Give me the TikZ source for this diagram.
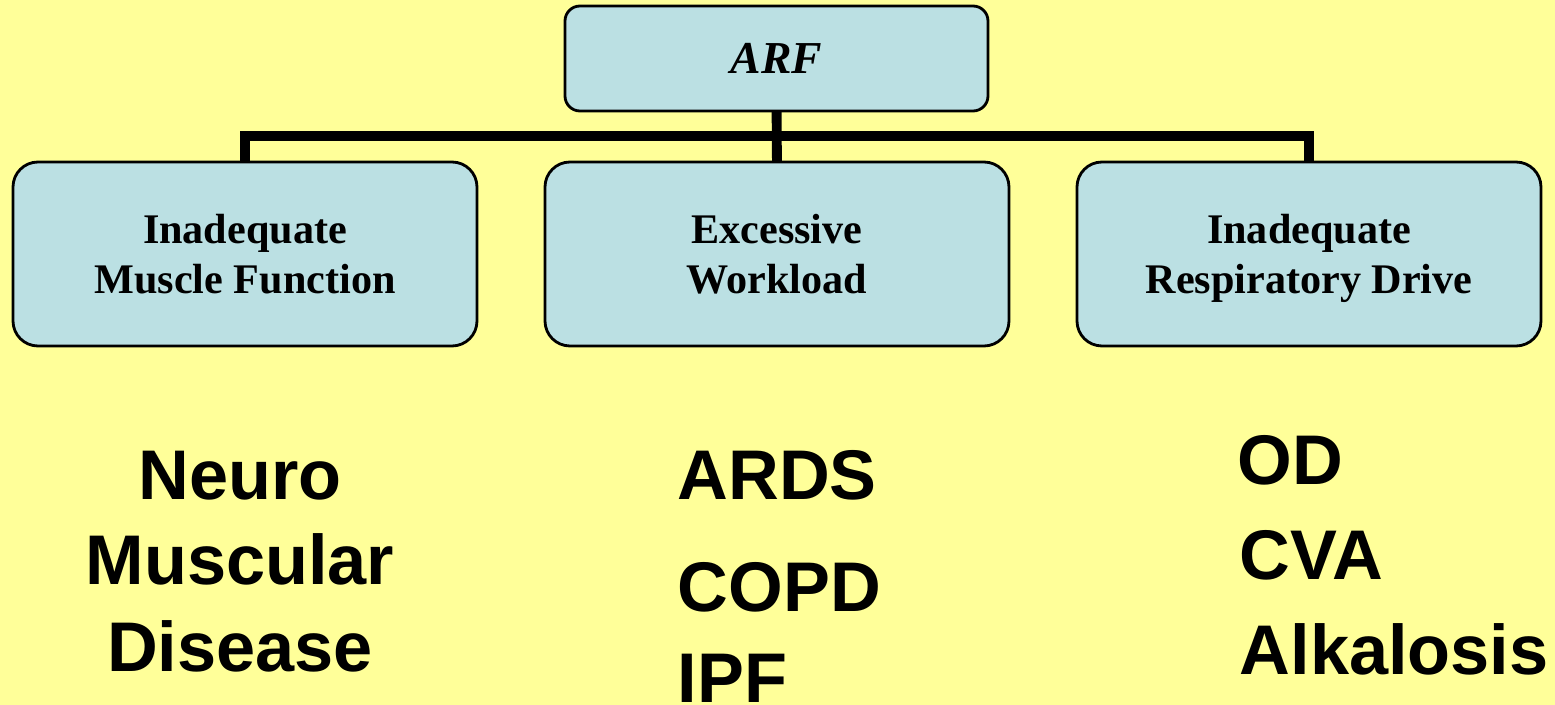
\documentclass[tikz,border=0pt]{standalone}
\usepackage{fontspec}
\setmainfont{Liberation Serif}
\setsansfont{Liberation Sans}
\definecolor{slidebg}{HTML}{FFFF99}
\definecolor{boxfill}{HTML}{BBE0E3}
\tikzset{
	topbox/.style = {draw = black, fill = boxfill, line width = 0.8pt,
					 rounded corners = 0.15cm, minimum width = 4.23cm,
					 minimum height = 1.05cm, inner sep = 0pt,
					 font = \fontsize{13}{15}\selectfont\bfseries\itshape},
	causebox/.style = {draw = black, fill = boxfill, line width = 0.8pt,
					 rounded corners = 0.25cm, minimum width = 4.64cm,
					 minimum height = 1.84cm, inner sep = 0pt, align = center,
					 font = \fontsize{12}{14.2}\selectfont\bfseries},
	example/.style = {inner sep = 0pt,
					 font = \fontsize{20}{24}\selectfont\sffamily\bfseries},
	conn/.style = {line width = 2.8pt}
}
\begin{document}
\begin{tikzpicture}
	\fill[slidebg] (0,0) rectangle (15.55,-7.05);
	\useasboundingbox (0,0) rectangle (15.55,-7.05);

	% connectors first, boxes over them
	\coordinate (bar) at (7.765,-1.36);
	\coordinate (lefttop) at (2.45,-1.7);
	\coordinate (midtop) at (7.77,-1.7);
	\coordinate (righttop) at (13.09,-1.7);
	\draw[conn] (7.765,-1.0) -- (midtop);
	\draw[conn] (lefttop) |- (bar) -| (righttop);

	\draw (7.765,-0.585) node[topbox](arf) {ARF};

	\draw (2.45,-2.54) node[causebox](muscle) {Inadequate\\Muscle Function};
	\draw (7.77,-2.54) node[causebox](workload) {Excessive\\Workload};
	\draw (13.09,-2.54) node[causebox](drive) {Inadequate\\\smash{Respiratory Drive}};

	% examples under each cause
	\draw (2.40,-5.0) node[example, anchor = base](neuro) {Neuro};
	\draw (2.40,-5.85) node[example, anchor = base](muscular) {Muscular};
	\draw (2.40,-6.72) node[example, anchor = base](disease) {Disease};

	\draw (6.77,-5.0) node[example, anchor = base west](ards) {ARDS};
	\draw (6.77,-6.12) node[example, anchor = base west](copd) {COPD};
	\draw (6.77,-7.03) node[example, anchor = base west](ipf) {IPF};

	\draw (12.37,-4.85) node[example, anchor = base west](od) {OD};
	\draw (12.39,-5.80) node[example, anchor = base west](cva) {CVA};
	\draw (12.39,-6.75) node[example, anchor = base west](alk) {Alkalosis};
\end{tikzpicture}
\end{document}
